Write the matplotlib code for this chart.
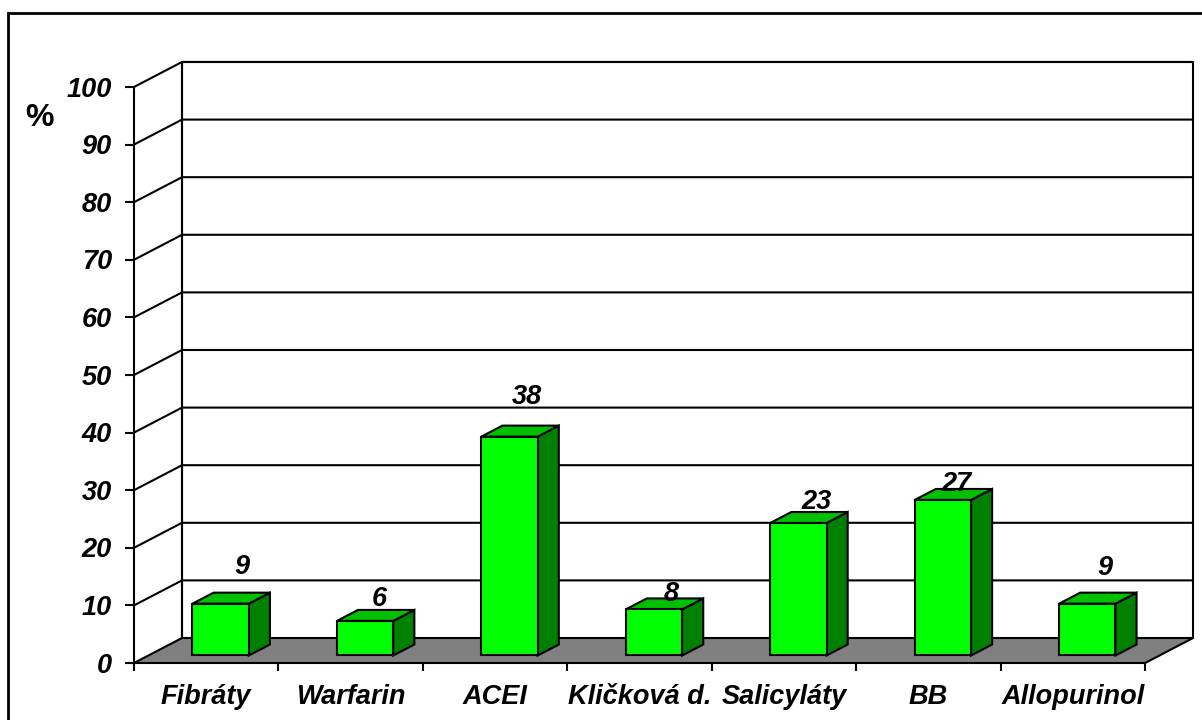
import matplotlib
matplotlib.use("Agg")
import matplotlib.pyplot as plt
from matplotlib.patches import Polygon
from matplotlib.lines import Line2D
import matplotlib.transforms as mtransforms

categories = ["Fibráty", "Warfarin", "ACEI", "Kličková d.", "Salicyláty", "BB", "Allopurinol"]
values = [9, 6, 38, 8, 23, 27, 9]
y_ticks = list(range(0, 101, 10))
y_label = "%"

# hand-placed nudges (pixels right, up) of each value label from its bar's front-top centre
label_nudge = [(21, 39), (14, 25), (17, 42), (17, 18), (18, 24), (14, 19), (18, 38)]

FONT = "Liberation Sans"
FS = 19.5
DEPTH_X = 0.3323      # depth shift of the back wall, in category units
DEPTH_Y = 4.34        # depth shift of the back wall, in value units
BAR_W = 0.39
BAR_Z0, BAR_Z1 = 0.30, 0.74
LW = 1.5

FRONT = "#00FF00"
TOP = "#00C000"
SIDE = "#008000"
FLOOR = "#808080"

fig = plt.figure(figsize=(12.02, 7.2), dpi=100)
ax = fig.add_axes([0, 0, 1, 1])
ax.set_xlim(-0.9278, 7.394)
ax.set_ylim(-9.896, 115.1)
ax.axis("off")

n = len(categories)
ymax = y_ticks[-1]


def proj(x, y, z):
    return (x + z * DEPTH_X, y + z * DEPTH_Y)


def poly(pts, fc, z):
    ax.add_patch(Polygon(pts, closed=True, facecolor=fc, edgecolor="black",
                         linewidth=LW, joinstyle="miter", zorder=z))


def line(pts, z=3, lw=LW):
    xs, ys = zip(*pts)
    ax.add_line(Line2D(xs, ys, color="black", linewidth=lw, zorder=z,
                       solid_capstyle="butt"))


# floor and back wall
poly([proj(0, 0, 0), proj(n, 0, 0), proj(n, 0, 1), proj(0, 0, 1)], FLOOR, 1)
poly([proj(0, 0, 1), proj(n, 0, 1), proj(n, ymax, 1), proj(0, ymax, 1)], "white", 1)

# gridlines running along the side wall and the back wall
for v in y_ticks[1:]:
    line([proj(0, v, 0), proj(0, v, 1), proj(n, v, 1)], z=2)
line([proj(0, 0, 1), proj(0, ymax, 1)], z=2)

# value axis with ticks
line([(0, 0), (0, ymax)], z=3)
tick_dx = 9 / 144.43
for v in y_ticks:
    line([(-tick_dx, v), (0, v)], z=3)
    t = mtransforms.offset_copy(ax.transData, fig=fig, x=-22, y=-9.7, units="dots")
    ax.text(0, v, str(v), transform=t, ha="right", va="baseline",
            fontfamily=FONT, fontsize=FS, fontweight="bold", fontstyle="italic")

# category axis with ticks between categories
tick_dy = 8 / 5.76
for k in range(n + 1):
    line([(k, 0), (k, -tick_dy)], z=3)
for i, name in enumerate(categories):
    t = mtransforms.offset_copy(ax.transData, fig=fig, x=0, y=-41, units="dots")
    ax.text(i + 0.5, 0, name, transform=t, ha="center", va="baseline",
            fontfamily=FONT, fontsize=FS, fontweight="bold", fontstyle="italic")

# bars drawn as boxes: front, top and right-hand side faces
for i, v in enumerate(values):
    x0 = i + 0.5 - BAR_W / 2
    x1 = x0 + BAR_W
    zb = 5 + i
    poly([proj(x1, 0, BAR_Z0), proj(x1, 0, BAR_Z1), proj(x1, v, BAR_Z1), proj(x1, v, BAR_Z0)], SIDE, zb)
    poly([proj(x0, v, BAR_Z0), proj(x1, v, BAR_Z0), proj(x1, v, BAR_Z1), proj(x0, v, BAR_Z1)], TOP, zb)
    poly([proj(x0, 0, BAR_Z0), proj(x1, 0, BAR_Z0), proj(x1, v, BAR_Z0), proj(x0, v, BAR_Z0)], FRONT, zb)

    cx, cy = proj(i + 0.5, v, BAR_Z0)
    ndx, ndy = label_nudge[i]
    t = mtransforms.offset_copy(ax.transData, fig=fig, x=ndx, y=ndy - 9.7, units="dots")
    ax.text(cx, cy, str(v), transform=t, ha="center", va="baseline", zorder=20,
            fontfamily=FONT, fontsize=FS, fontweight="bold", fontstyle="italic")

# axis unit label
ax.text(-0.651, 93.3, y_label, ha="center", va="baseline",
        fontfamily=FONT, fontsize=23, fontweight="bold")

# chart area frame
fx = 7.5 / 1202
fy = 1 - 13 / 720
fig.add_artist(Line2D([fx, fx, 1.0], [0.0, fy, fy], transform=fig.transFigure,
                      color="black", linewidth=2.0, solid_joinstyle="miter"))

fig.savefig("out.png", dpi=100, facecolor="white")
